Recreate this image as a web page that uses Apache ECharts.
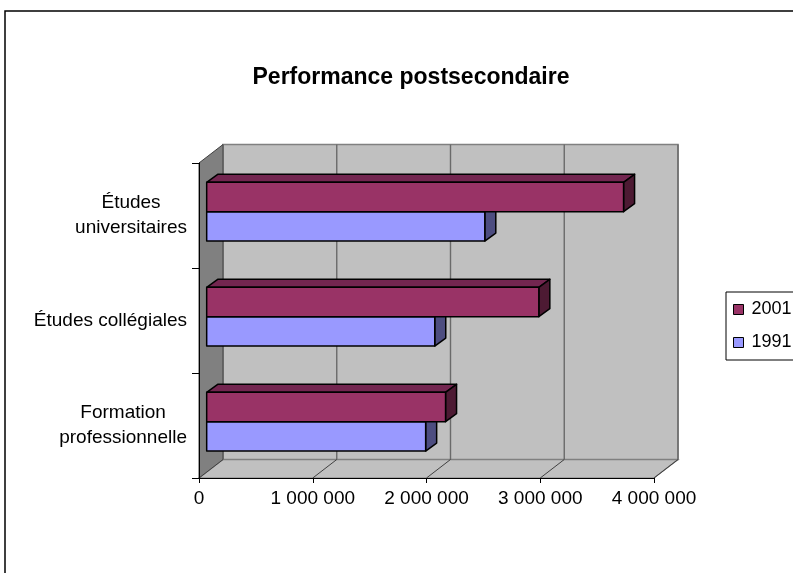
<!DOCTYPE html>
<html>
<head>
<meta charset="utf-8">
<script src="https://cdn.jsdelivr.net/npm/echarts@6/dist/echarts.min.js"></script>
<style>
  html, body { margin: 0; padding: 0; background: #fff; }
  #chart { width: 793px; height: 573px; }
</style>
</head>
<body>
<div id="chart"></div>
<script>
// Postsecondary diplomas by level, 1991 vs 2001
const categories = ['Études\nuniversitaires', 'Études collégiales', 'Formation\nprofessionnelle'];
const seriesNames = ['2001', '1991'];
const values2001 = [3665000, 2920000, 2100000];
const values1991 = [2445000, 2005000, 1925000];
const xTicks = [0, 1000000, 2000000, 3000000, 4000000];

// 3D look: depth vector of the walls, bar placement inside that depth
const DEPTH = [24, -18.5];
const BAR_FRONT = 0.32;
const BAR_DEPTH = [11, -8];
const FONT = '"Liberation Sans", Arial, sans-serif';

const faceColors = {
  '2001': { front: '#993366', top: '#732650', side: '#4d1a33' },
  '1991': { front: '#9999ff', top: '#7373bf', side: '#4d4d80' }
};

function fmt(v) {
  return String(v).replace(/\B(?=(\d{3})+(?!\d))/g, ' ');
}

// Back wall, side wall, floor and gridlines of the plot box
function renderWalls(params, api) {
  const cs = params.coordSys;
  const x = cs.x, y = cs.y, w = cs.width, h = cs.height;
  const dx = DEPTH[0], dy = DEPTH[1];
  const children = [];
  children.push({
    type: 'polygon',
    shape: { points: [[x, y + h], [x + w, y + h], [x + w + dx, y + h + dy], [x + dx, y + h + dy]] },
    style: { fill: '#c0c0c0', stroke: '#808080', lineWidth: 1.2 }
  });
  children.push({
    type: 'rect',
    shape: { x: x + dx, y: y + dy, width: w, height: h },
    style: { fill: '#c0c0c0', stroke: '#808080', lineWidth: 1.5 }
  });
  children.push({
    type: 'polygon',
    shape: { points: [[x, y], [x + dx, y + dy], [x + dx, y + h + dy], [x, y + h]] },
    style: { fill: '#808080', stroke: '#404040', lineWidth: 1 }
  });
  xTicks.forEach(function (t, i) {
    if (i === 0) return;
    const px = api.coord([t, 0])[0];
    children.push({
      type: 'line',
      shape: { x1: px + dx, y1: y + dy, x2: px + dx, y2: y + h + dy },
      style: { stroke: '#6a6a6a', lineWidth: 1.4 }
    });
    children.push({
      type: 'line',
      shape: { x1: px, y1: y + h, x2: px + dx, y2: y + h + dy },
      style: { stroke: '#404040', lineWidth: 1 }
    });
  });
  return { type: 'group', children: children };
}

// Box-shaped bar: front face, top face and right face
function makeBarRenderer(name, slot) {
  const c = faceColors[name];
  return function (params, api) {
    const cat = api.value(1);
    const val = api.value(0);
    const start = api.coord([0, cat]);
    const end = api.coord([val, cat]);
    const band = api.size([0, 1])[1];
    const bh = band * 0.28;
    const ox = DEPTH[0] * BAR_FRONT, oy = DEPTH[1] * BAR_FRONT;
    const x0 = start[0] + ox, x1 = end[0] + ox;
    const yc = start[1] + oy + band * 0.02;
    const y0 = slot === 0 ? yc - bh : yc;
    const y1 = y0 + bh;
    const bx = BAR_DEPTH[0], by = BAR_DEPTH[1];
    const stroke = { stroke: '#000', lineWidth: 1.5, lineJoin: 'round' };
    return {
      type: 'group',
      children: [
        {
          type: 'polygon',
          shape: { points: [[x0, y0], [x1, y0], [x1 + bx, y0 + by], [x0 + bx, y0 + by]] },
          style: Object.assign({ fill: c.top }, stroke)
        },
        {
          type: 'polygon',
          shape: { points: [[x1, y0], [x1 + bx, y0 + by], [x1 + bx, y1 + by], [x1, y1]] },
          style: Object.assign({ fill: c.side }, stroke)
        },
        {
          type: 'rect',
          shape: { x: x0, y: y0, width: x1 - x0, height: y1 - y0 },
          style: Object.assign({ fill: c.front }, stroke)
        }
      ]
    };
  };
}

const chart = echarts.init(document.getElementById('chart'), null, { renderer: 'canvas' });

chart.setOption({
  animation: false,
  backgroundColor: '#fff',
  graphic: [{
    type: 'rect',
    shape: { x: 5, y: 11, width: 900, height: 700 },
    style: { fill: 'none', stroke: '#000', lineWidth: 1.5 },
    z: 100
  }],
  title: {
    text: 'Performance postsecondaire',
    left: 411,
    top: 66,
    textAlign: 'center',
    padding: 0,
    textStyle: { fontFamily: FONT, fontSize: 23, fontWeight: 'bold', color: '#000' }
  },
  legend: {
    orient: 'vertical',
    left: 726,
    top: 292,
    data: seriesNames,
    icon: 'rect',
    itemWidth: 10,
    itemHeight: 10,
    itemGap: 12,
    padding: [7, 60, 7, 7],
    borderColor: '#000',
    borderWidth: 1,
    backgroundColor: '#fff',
    selectedMode: false,
    itemStyle: { borderColor: '#000', borderWidth: 1 },
    textStyle: { fontFamily: FONT, fontSize: 18, color: '#000', lineHeight: 21, padding: [0, 0, 0, 3] }
  },
  grid: { left: 199, top: 163, width: 455, height: 315 },
  xAxis: {
    type: 'value',
    min: xTicks[0],
    max: xTicks[xTicks.length - 1],
    interval: xTicks[1] - xTicks[0],
    z: 10,
    splitLine: { show: false },
    axisLine: { show: true, lineStyle: { color: '#000', width: 1 } },
    axisTick: { show: true, length: 5, lineStyle: { color: '#000' } },
    axisLabel: { margin: 11, formatter: fmt, fontFamily: FONT, fontSize: 19, color: '#000' }
  },
  yAxis: {
    type: 'category',
    data: categories,
    inverse: true,
    z: 10,
    axisLine: { show: true, lineStyle: { color: '#000', width: 1 } },
    axisTick: { show: true, length: 7, lineStyle: { color: '#000' } },
    axisLabel: {
      margin: 12,
      color: '#000',
      fontFamily: FONT,
      fontSize: 19,
      formatter: function (v) {
        return v.split('\n').map(function (s) { return '{c|' + s + '}'; }).join('\n');
      },
      rich: { c: { align: 'center', fontFamily: FONT, fontSize: 19, lineHeight: 25, color: '#000' } }
    }
  },
  series: [
    {
      type: 'custom',
      name: 'walls',
      z: 1,
      silent: true,
      renderItem: renderWalls,
      data: [[0, 0]],
      encode: { x: 0, y: 1 }
    },
    {
      type: 'custom',
      name: '1991',
      z: 3,
      itemStyle: { color: faceColors['1991'].front },
      renderItem: makeBarRenderer('1991', 1),
      data: values1991.map(function (v, i) { return [v, i]; }),
      encode: { x: 0, y: 1 }
    },
    {
      type: 'custom',
      name: '2001',
      z: 4,
      itemStyle: { color: faceColors['2001'].front },
      renderItem: makeBarRenderer('2001', 0),
      data: values2001.map(function (v, i) { return [v, i]; }),
      encode: { x: 0, y: 1 }
    }
  ]
});
</script>
</body>
</html>
